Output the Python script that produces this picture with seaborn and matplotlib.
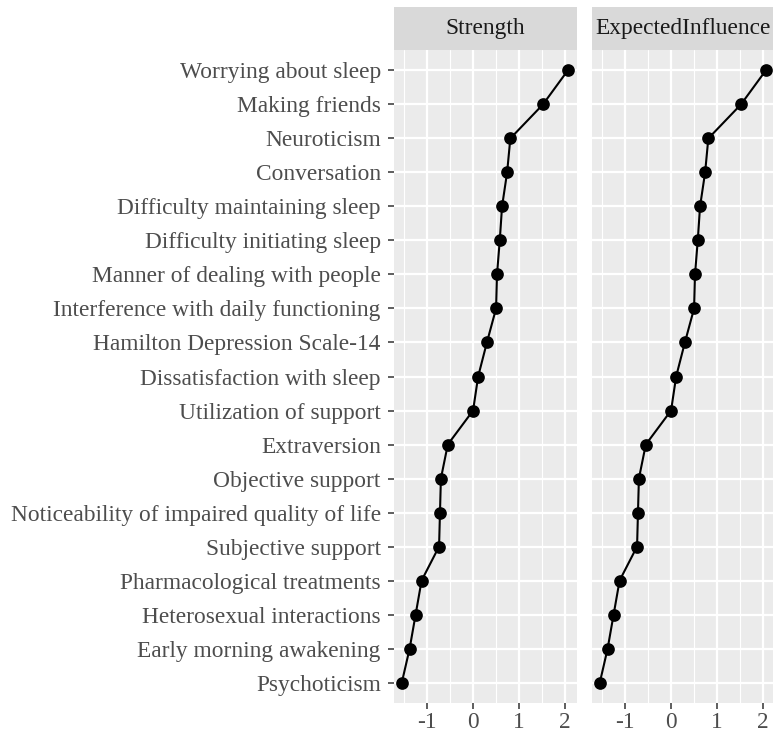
import matplotlib
matplotlib.use("Agg")
import matplotlib.pyplot as plt
import matplotlib.patches as mpatches
from matplotlib.ticker import FixedLocator
import seaborn as sns
import pandas as pd

nodes = [
    "Worrying about sleep", "Making friends", "Neuroticism", "Conversation",
    "Difficulty maintaining sleep", "Difficulty initiating sleep",
    "Manner of dealing with people", "Interference with daily functioning",
    "Hamilton Depression Scale-14", "Dissatisfaction with sleep",
    "Utilization of support", "Extraversion", "Objective support",
    "Noticeability of impaired quality of life", "Subjective support",
    "Pharmacological treatments", "Heterosexual interactions",
    "Early morning awakening", "Psychoticism",
]
strength = [2.07, 1.53, 0.82, 0.75, 0.64, 0.59, 0.53, 0.51, 0.31, 0.12,
            0.01, -0.54, -0.69, -0.71, -0.73, -1.11, -1.24, -1.37, -1.54]
expected_influence = [2.07, 1.53, 0.82, 0.75, 0.64, 0.59, 0.53, 0.51, 0.31, 0.12,
                      0.01, -0.54, -0.69, -0.71, -0.73, -1.11, -1.24, -1.37, -1.54]
panels = ["Strength", "ExpectedInfluence"]
x_ticks = [-1, 0, 1, 2]

df = pd.concat([
    pd.DataFrame({"node": nodes, "value": strength, "measure": "Strength"}),
    pd.DataFrame({"node": nodes, "value": expected_influence, "measure": "ExpectedInfluence"}),
])

sns.set_theme(style="darkgrid")
plt.rcParams["font.family"] = ["Liberation Serif", "DejaVu Serif"]

W, H = 773, 738
fig = plt.figure(figsize=(W / 100, H / 100), dpi=100)

panel_top, panel_bot = 50, 703
strip_top = 7
lefts = [394, 592]
pw = 183

fs = 16.8
for i, m in enumerate(panels):
    ax = fig.add_axes([lefts[i] / W, (H - panel_bot) / H, pw / W, (panel_bot - panel_top) / H])
    sub = df[df["measure"] == m]
    sns.pointplot(data=sub, x="value", y="node", order=nodes, orient="h",
                  errorbar=None, color="black", markers="o",
                  markersize=8, linewidth=1.5, ax=ax)
    ax.set_facecolor("#EBEBEB")
    for s in ax.spines.values():
        s.set_visible(False)
    ax.set_xlim(-1.71, 2.27)
    ax.set_ylim(len(nodes) - 1 + 0.6, -0.6)
    ax.xaxis.set_major_locator(FixedLocator(x_ticks))
    ax.xaxis.set_minor_locator(FixedLocator([-1.5, -0.5, 0.5, 1.5]))
    ax.set_xticklabels([str(t) for t in x_ticks])
    ax.grid(which="major", color="white", linewidth=1.6)
    ax.grid(which="minor", axis="x", color="white", linewidth=0.8)
    ax.set_axisbelow(True)
    ax.set_xlabel("")
    ax.set_ylabel("")
    ax.tick_params(axis="both", which="major", length=4.5, width=1.1, color="#333333",
                   labelsize=fs, labelcolor="#4D4D4D", pad=4)
    ax.tick_params(axis="y", pad=5, left=True)
    ax.tick_params(axis="x", pad=2, bottom=True)
    ax.tick_params(which="minor", length=0)
    if i > 0:
        ax.tick_params(axis="y", left=False, labelleft=False)
    # strip
    fig.add_artist(mpatches.Rectangle((lefts[i] / W, (H - panel_top) / H), pw / W,
                                      (panel_top - strip_top) / H,
                                      transform=fig.transFigure, facecolor="#D9D9D9",
                                      edgecolor="none"))
    fig.text((lefts[i] + pw / 2) / W, (H - (panel_top + strip_top) / 2) / H, m,
             ha="center", va="center", fontsize=fs, color="#1A1A1A")

fig.savefig("out.png", dpi=100, facecolor="white")
